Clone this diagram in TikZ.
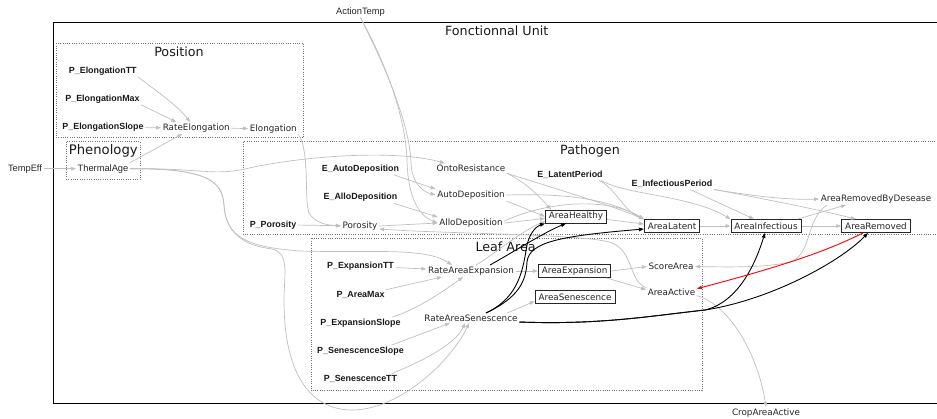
\documentclass[tikz,border=0pt]{standalone}
\usepackage{fontspec}
\setmainfont{DejaVu Sans}
\newfontfamily\lsans{Liberation Sans}
\usetikzlibrary{arrows.meta}

\begin{document}
\begin{tikzpicture}[x=1pt,y=-1pt,
  lbl/.style={font=\fontsize{8.8}{10}\selectfont, text=black!85, inner sep=1.5pt},
  prm/.style={font=\lsans\bfseries\fontsize{8.9}{10}\selectfont, text=black!90, inner sep=1.5pt},
  ext/.style={font=\lsans\fontsize{9.3}{10}\selectfont, text=black!85, inner sep=1.5pt},
  var/.style={lbl, draw=black!85, line width=0.8pt, inner xsep=3.5pt, inner ysep=0pt, minimum height=13pt},
  ttl/.style={font=\fontsize{12.7}{14}\selectfont, text=black!90, inner sep=0pt},
  grp/.style={draw=black!55, line width=0.7pt, dash pattern=on 0.7pt off 1.6pt},
  dep/.style={draw=black!25, line width=0.7pt, -{Triangle[length=5pt,width=3.6pt]}},
  flow/.style={draw=black, line width=0.9pt, -{Triangle[length=5pt,width=3.6pt]}},
  loss/.style={draw=red, line width=0.9pt, -{Triangle[length=5pt,width=3.6pt]}},
]
\useasboundingbox (0,0) rectangle (937,418);

% clusters
\draw[black, line width=0.9pt] (53.3,22.3) rectangle (945,403.5);
\draw[grp] (56,43.3) rectangle (303.3,137.7);
\draw[grp] (66.7,141.7) rectangle (140,179.3);
\draw[grp] (243.5,141.7) rectangle (945,234.5);
\draw[grp] (311,238.3) rectangle (702,390.7);

\node[ttl] (tFU) at (496.7,30.7) {Fonctionnal Unit};
\node[ttl] (tPos) at (179,51.7) {Position};
\node[ttl, font=\fontsize{13.2}{14}\selectfont] (tPhe) at (103.3,151) {Phenology};
\node[ttl] (tPat) at (590,151) {Pathogen};
\node[ttl] (tLA) at (505.6,247) {Leaf Area};

% variables and parameters
\node[ext] (TempEff) at (25,168.7) {TempEff};
\node[ext] (ActT) at (360.5,11.7) {ActionTemp};
\node[lbl] (Crop) at (766,413) {CropAreaActive};
\node[prm] (PElTT) at (102.8,71.3) {P\_ElongationTT};
\node[prm] (PElMax) at (102.5,99) {P\_ElongationMax};
\node[prm] (PElSl) at (103,127.3) {P\_ElongationSlope};
\node[lbl] (RateEl) at (196.3,128) {RateElongation};
\node[lbl] (Elong) at (273.3,128.7) {Elongation};
\node[ext] (Thermal) at (103,168.7) {ThermalAge};
\node[lbl] (Onto) at (471,168.3) {OntoResistance};
\node[prm] (EAuto) at (360.5,169) {E\_AutoDeposition};
\node[lbl] (AutoD) at (471,195) {AutoDeposition};
\node[prm] (EAllo) at (360.5,197.5) {E\_AlloDeposition};
\node[lbl] (AlloD) at (471,223) {AlloDeposition};
\node[prm] (PPor) at (273,224.7) {P\_Porosity};
\node[lbl] (Poros) at (360,226) {Porosity};
\node[prm] (ELat) at (570,175) {E\_LatentPeriod};
\node[prm] (EInf) at (672,184) {E\_InfectiousPeriod};
\node[var] (AHea) at (576,216.5) {AreaHealthy};
\node[var] (ALat) at (672,226) {AreaLatent};
\node[var] (AInf) at (766,226) {AreaInfectious};
\node[var] (ARem) at (876,226) {AreaRemoved};
\node[lbl] (ARBD) at (876,199) {AreaRemovedByDesease};
\node[prm] (PExTT) at (360.5,266) {P\_ExpansionTT};
\node[lbl] (RAE) at (471,271) {RateAreaExpansion};
\node[var] (AExp) at (574.6,271) {AreaExpansion};
\node[lbl] (Score) at (671,266.5) {ScoreArea};
\node[prm] (PAMax) at (360.5,295) {P\_AreaMax};
\node[lbl] (AAct) at (671.5,292.7) {AreaActive};
\node[var] (ASen) at (575,297.3) {AreaSenescence};
\node[prm] (PExSl) at (360.5,323) {P\_ExpansionSlope};
\node[lbl] (RAS) at (471,318) {RateAreaSenescence};
\node[prm] (PSeSl) at (360.5,351) {P\_SenescenceSlope};
\node[prm] (PSeTT) at (360.5,379) {P\_SenescenceTT};

% phenology and position
\draw[dep] (TempEff.east) -- (Thermal.west);
\draw[dep] (PElTT.south east) .. controls (152,88) and (175,103) .. ([xshift=-6pt]RateEl.north);
\draw[dep] (PElMax.south east) -- ([xshift=-20pt]RateEl.north);
\draw[dep] (PElSl) -- (RateEl);
\draw[dep] (Thermal.north east) -- ([xshift=-14pt]RateEl.south);
\draw[dep] (RateEl) -- (Elong);
\draw[dep] (Elong.south east) .. controls (310,150) and (304,200) .. (309,213) .. controls (314,222) and (325,225) .. (Poros.west);
\draw[dep] (PPor) -- (Poros);
\draw[dep] (Thermal.east) .. controls (200,168) and (212,176) .. (245,169) .. controls (290,158) and (390,148) .. ([xshift=10pt]Onto.north west);
\draw[dep] (Thermal.east) .. controls (215,168) and (222,185) .. (224,205) .. controls (226,238) and (248,247) .. (300,251) .. controls (370,253) and (425,247) .. ([xshift=-19pt]RAE.north);
\draw[dep] (Thermal.east) .. controls (215,168) and (222,185) .. (224,205) .. controls (226,238) and (250,246) .. (272,249) .. controls (290,253) and (284,275) .. (284,300) .. controls (284,385) and (318,410) .. (352,410) .. controls (400,410) and (452,360) .. ([xshift=-2pt]RAS.south);

% leaf area
\draw[dep] (PExTT) -- (RAE);
\draw[dep] (PAMax.north east) -- ([xshift=-29pt]RAE.south);
\draw[dep] ([xshift=-10pt]PExSl.north east) .. controls (420,308) and (445,290) .. ([xshift=-8pt]RAE.south);
\draw[dep] ([xshift=-14pt]PSeSl.north east) -- ([xshift=-21pt]RAS.south);
\draw[dep] ([xshift=-7pt]PSeTT.north east) .. controls (420,362) and (455,345) .. ([xshift=-6pt]RAS.south);
\draw[dep] (RAE) -- (AExp);
\draw[dep] ([xshift=-12pt]RAS.north east) -- ([yshift=3pt]ASen.south west);
\draw[dep] (AExp.east) -- (Score.west);
\draw[dep] ([xshift=-5pt]AExp.south east) -- ([yshift=-2pt]AAct.north west);
\draw[dep] (AAct.north west) .. controls (628,280) and (634,252) .. (612,243) .. controls (590,234) and (450,234) .. ([yshift=-3pt]Poros.east);
\draw[dep] ([yshift=-3pt]AAct.east) .. controls (730,305) and (758,355) .. (Crop.north);
\draw[dep] ([xshift=5pt]RAE.north) .. controls (500,250) and (520,232) .. ([yshift=2pt]AHea.south west);

% pathogen
\draw[dep] ([xshift=-7pt]EAuto.south east) -- (AutoD.north west);
\draw[dep] ([xshift=-5pt]EAllo.south east) -- (AlloD.north west);
\draw[dep] (Poros.east) -- (AlloD.west);
\draw[dep] (ActT.south) .. controls (392,80) and (410,130) .. (411,163) .. controls (412,185) and (424,192) .. (AutoD.west);
\draw[dep] (ActT.south) .. controls (395,80) and (406,130) .. (407,160) .. controls (408,200) and (420,216) .. (AlloD.west);
\draw[dep] (Onto.south east) .. controls (525,182) and (538,195) .. ([xshift=-25pt]AHea.north);
\draw[dep] (Onto.south east) .. controls (560,190) and (610,205) .. (ALat.north west);
\draw[dep] (AutoD.south east) -- (AHea.west);
\draw[dep] (AutoD.east) .. controls (570,193) and (610,200) .. (ALat.north west);
\draw[dep] (AlloD.east) -- ([yshift=-2pt]AHea.west);
\draw[dep] ([yshift=2pt]AlloD.east) .. controls (550,200) and (610,198) .. (ALat.north west);
\draw[dep] ([yshift=-3pt]AHea.east) -- ([yshift=2pt]ALat.west);
\draw[dep] ([xshift=-5pt]ELat.south east) .. controls (615,188) and (625,212) .. (ALat.north west);
\draw[dep] ([xshift=-3pt]ELat.south east) .. controls (625,195) and (690,195) .. (AInf.north west);
\draw[dep] (ALat) -- (AInf);
\draw[dep] (AInf) -- (ARem);
\draw[dep] ([xshift=-4pt]AInf.north east) -- ([xshift=-30pt]ARBD.south);
\draw[dep] ([xshift=18pt]EInf.south) -- ([xshift=-12pt]AInf.north);
\draw[dep] (EInf.south east) .. controls (760,197) and (790,200) .. (ARBD.west);
\draw[dep] (EInf.south east) .. controls (770,200) and (820,210) .. ([xshift=-20pt]ARem.north);
\draw[dep] ([xshift=-49pt]ARBD.south) .. controls (805,220) and (812,255) .. (790,262) .. controls (765,268) and (725,267) .. (Score.east);

% lesion dynamics
\draw[flow] ([xshift=19pt]RAE.north) .. controls (520,248) and (545,232) .. ([xshift=-10pt]AHea.south);
\draw[flow] ([xshift=15pt]RAS.north) .. controls (520,297) and (523,268) .. (527,245) .. controls (530,232) and (537,226) .. (AHea.south west);
\draw[flow] ([xshift=15pt]RAS.north) .. controls (520,297) and (526,280) .. (527,262) .. controls (529,242) and (560,236) .. ([yshift=-3pt]ALat.west);
\draw[flow] ([yshift=-4pt]RAS.east) .. controls (600,325) and (650,316) .. (705,310) .. controls (738,302) and (755,265) .. ([xshift=-1pt]AInf.south);
\draw[flow] ([yshift=-4pt]RAS.east) .. controls (600,325) and (650,316) .. (705,310) .. controls (770,300) and (840,262) .. ([xshift=-8pt]ARem.south);
\draw[loss] ([xshift=-13pt]ARem.south) .. controls (820,255) and (760,272) .. ([yshift=4pt]AAct.east);
\end{tikzpicture}
\end{document}
